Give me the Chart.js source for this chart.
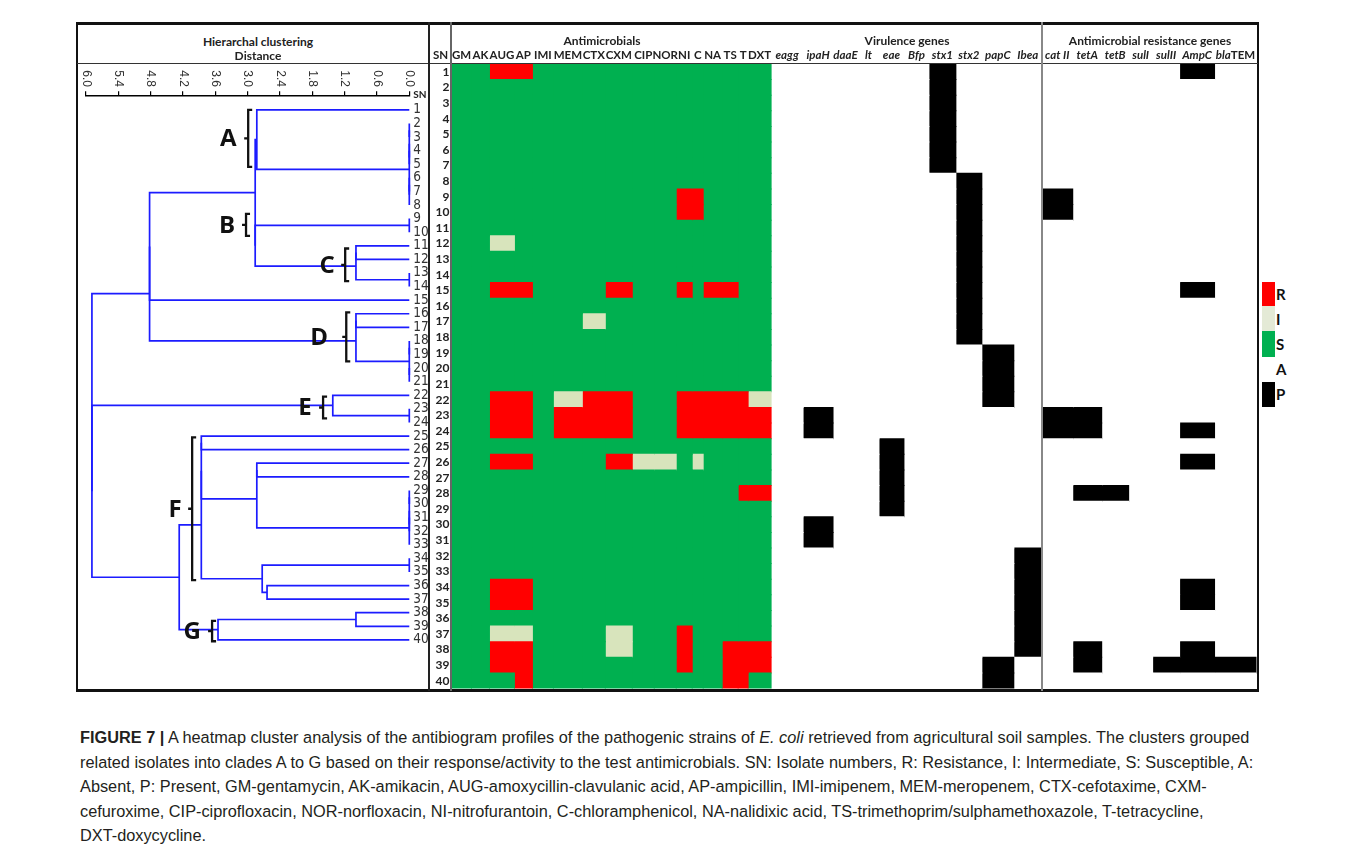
<!DOCTYPE html>
<html><head><meta charset="utf-8">
<script src="https://cdn.jsdelivr.net/npm/chart.js@4.4.0/dist/chart.umd.min.js"></script>
<style>
html,body{margin:0;padding:0;background:#fff;}
body{width:1356px;height:856px;position:relative;overflow:hidden;font-family:Lato,'Open Sans',sans-serif;}
canvas{position:absolute;}
.ln{position:absolute;z-index:5;}
.hdr{position:absolute;font-weight:bold;font-size:12px;line-height:14px;color:#222;text-align:center;white-space:nowrap;width:300px;z-index:6;}
.lg{position:absolute;left:1262px;width:13px;}
.lgt{position:absolute;left:1276px;font:bold 15px Lato,sans-serif;color:#111;line-height:18px;}
#caption{position:absolute;left:80px;top:725px;font-family:'Liberation Sans Narrow','Liberation Sans',Arial,sans-serif;font-size:17px;color:#231f20;line-height:24.5px;white-space:nowrap;}
#caption span.l{display:inline-block;}
</style></head>
<body>
<canvas id="dendro" width="350" height="625" style="left:78px;top:64px;"></canvas>
<canvas id="heat" width="829" height="667" style="left:429px;top:22px;"></canvas>

<!-- frame lines -->
<div class="ln" style="left:75.5px;top:22px;width:1183.5px;height:2.5px;background:#111"></div>
<div class="ln" style="left:75.5px;top:689px;width:1183.5px;height:2.5px;background:#111"></div>
<div class="ln" style="left:75.5px;top:22px;width:2.5px;height:669px;background:#111"></div>
<div class="ln" style="left:1257px;top:22px;width:2px;height:669px;background:#111"></div>
<div class="ln" style="left:77px;top:62.8px;width:1181px;height:1.3px;background:#333"></div>
<div class="ln" style="left:428.3px;top:22px;width:1.8px;height:669px;background:#222"></div>
<div class="ln" style="left:450.4px;top:22px;width:1.2px;height:669px;background:#666"></div>
<div class="ln" style="left:1041.2px;top:22px;width:1.4px;height:669px;background:#888"></div>

<div class="hdr" style="left:108px;top:35px;">Hierarchal clustering</div>
<div class="hdr" style="left:108px;top:49px;">Distance</div>
<div class="hdr" style="left:452px;top:34px;">Antimicrobials</div>
<div class="hdr" style="left:757px;top:34px;">Virulence genes</div>
<div class="hdr" style="left:1000px;top:34px;">Antimicrobial resistance genes</div>

<!-- key -->
<div class="lg" style="top:282px;height:24px;background:#ff0000"></div>
<div class="lg" style="top:306px;height:25px;background:#e4ead6"></div>
<div class="lg" style="top:331px;height:26px;background:#00b050"></div>
<div class="lg" style="top:382px;height:25px;background:#000"></div>
<div class="lgt" style="top:285px;">R</div>
<div class="lgt" style="top:310px;">I</div>
<div class="lgt" style="top:335px;">S</div>
<div class="lgt" style="top:360px;">A</div>
<div class="lgt" style="top:385px;">P</div>

<div id="caption">
<span class="l"><b>FIGURE 7 |</b> A heatmap cluster analysis of the antibiogram profiles of the pathogenic strains of <i>E. coli</i> retrieved from agricultural soil samples. The clusters grouped</span><br>
<span class="l">related isolates into clades A to G based on their response/activity to the test antimicrobials. SN: Isolate numbers, R: Resistance, I: Intermediate, S: Susceptible, A:</span><br>
<span class="l">Absent, P: Present, GM-gentamycin, AK-amikacin, AUG-amoxycillin-clavulanic acid, AP-ampicillin, IMI-imipenem, MEM-meropenem, CTX-cefotaxime, CXM-</span><br>
<span class="l">cefuroxime, CIP-ciprofloxacin, NOR-norfloxacin, NI-nitrofurantoin, C-chloramphenicol, NA-nalidixic acid, TS-trimethoprim/sulphamethoxazole, T-tetracycline,</span><br>
<span class="l">DXT-doxycycline.</span>
</div>

<script>
// ================= DATA =================
const sn = ['1','2','3','4','5','6','7','8','9','10','11','12','13','14','15','16','17','18','19','20',
            '21','22','23','24','25','26','27','28','29','30','31','32','33','34','35','36','37','38','39','40'];
const antimicrobials = ['GM','AK','AUG','AP','IMI','MEM','CTX','CXM','CIP','NOR','NI','C','NA','TS','T','DXT'];
const virulenceGenes = ['eagg','ipaH','daaE','lt','eae','Bfp','stx1','stx2','papC','Ibea'];
const resistanceGenes = ['cat II','tetA','tetB','sulI','sulII','AmpC','blaTEM'];
const distanceTicks = [6.0,5.4,4.8,4.2,3.6,3.0,2.4,1.8,1.2,0.6,0.0];

// antibiogram per isolate (columns in antimicrobials order): R resistant, I intermediate, S susceptible
const antibiogram = [
 'SSRRSSSSSSSSSSSS','SSSSSSSSSSSSSSSS','SSSSSSSSSSSSSSSS','SSSSSSSSSSSSSSSS','SSSSSSSSSSSSSSSS',
 'SSSSSSSSSSSSSSSS','SSSSSSSSSSSSSSSS','SSSSSSSSSSSSSSSS','SSSSSSSSSSRRSSSS','SSSSSSSSSSRRSSSS',
 'SSSSSSSSSSSSSSSS','SSISSSSSSSSSSSSS','SSSSSSSSSSSSSSSS','SSSSSSSSSSSSSSSS','SSRRSSSRSSRSRRSS',
 'SSSSSSSSSSSSSSSS','SSSSSSISSSSSSSSS','SSSSSSSSSSSSSSSS','SSSSSSSSSSSSSSSS','SSSSSSSSSSSSSSSS',
 'SSSSSSSSSSSSSSSS','SSRRSIRRSSRRRRRI','SSRRSRRRSSRRRRRR','SSRRSRRRSSRRRRRR','SSSSSSSSSSSSSSSS',
 'SSRRSSSRIISISSSS','SSSSSSSSSSSSSSSS','SSSSSSSSSSSSSSRR','SSSSSSSSSSSSSSSS','SSSSSSSSSSSSSSSS',
 'SSSSSSSSSSSSSSSS','SSSSSSSSSSSSSSSS','SSSSSSSSSSSSSSSS','SSRRSSSSSSSSSSSS','SSRRSSSSSSSSSSSS',
 'SSSSSSSSSSSSSSSS','SSIISSSISSRSSSSS','SSRRSSSISSRSSRRR','SSRRSSSSSSRSSRRR','SSSRSSSSSSSSSRRS'
];
// virulence genes per isolate: P present, A absent
const virulence = [
 'AAAAAAPAAA','AAAAAAPAAA','AAAAAAPAAA','AAAAAAPAAA','AAAAAAPAAA','AAAAAAPAAA','AAAAAAPAAA',
 'AAAAAAAPAA','AAAAAAAPAA','AAAAAAAPAA','AAAAAAAPAA','AAAAAAAPAA','AAAAAAAPAA','AAAAAAAPAA',
 'AAAAAAAPAA','AAAAAAAPAA','AAAAAAAPAA','AAAAAAAPAA',
 'AAAAAAAAPA','AAAAAAAAPA','AAAAAAAAPA','AAAAAAAAPA',
 'APAAAAAAAA','APAAAAAAAA',
 'AAAAPAAAAA','AAAAPAAAAA','AAAAPAAAAA','AAAAPAAAAA','AAAAPAAAAA',
 'APAAAAAAAA','APAAAAAAAA',
 'AAAAAAAAAP','AAAAAAAAAP','AAAAAAAAAP','AAAAAAAAAP','AAAAAAAAAP','AAAAAAAAAP','AAAAAAAAAP',
 'AAAAAAAAPA','AAAAAAAAPA'
];
// resistance genes per isolate
const resistance = [
 'AAAAAPA','AAAAAAA','AAAAAAA','AAAAAAA','AAAAAAA','AAAAAAA','AAAAAAA','AAAAAAA','PAAAAAA','PAAAAAA',
 'AAAAAAA','AAAAAAA','AAAAAAA','AAAAAAA','AAAAAPA','AAAAAAA','AAAAAAA','AAAAAAA','AAAAAAA','AAAAAAA',
 'AAAAAAA','AAAAAAA','PPAAAAA','PPAAAPA','AAAAAAA','AAAAAPA','AAAAAAA','APPAAAA','AAAAAAA','AAAAAAA',
 'AAAAAAA','AAAAAAA','AAAAAAA','AAAAAPA','AAAAAPA','AAAAAAA','AAAAAAA','APAAAPA','APAAPPP','AAAAAAA'
];

// hierarchical clustering (hclust style): negative = isolate, positive = earlier merge
const mergeLeft  = [-2,-4,1,-6,4,3,-9,-13,-18,-20,9,-23,-29,-31,13,15,-34,-11,18,-16,20,-38,-22,-36,17,-27,26,-1,7,28,22,-25,32,33,34,30,36,23,37];
const mergeRight = [-3,-5,2,-7,-8,5,-10,-14,-19,-21,10,-24,-30,-32,14,-33,-35,-12,8,-17,11,-39,12,-37,24,-28,16,6,19,29,-40,-26,27,25,31,-15,21,35,38];
const mergeHeight= [0,0,0,0,0,0,0,0,0,0,0,0,0,0,0,0,0,0.99,0.99,0.99,0.99,0.99,1.42,2.64,2.73,2.83,2.83,2.83,2.86,2.86,3.55,3.86,3.86,3.86,4.27,4.82,4.82,5.89,5.89];

// clade annotations
const cladeNames = ['A','B','C','D','E','F','G'];
const cladeFrom  = [1.0, 8.65, 11.2, 15.9, 22.1, 25.1, 38.6];
const cladeTo    = [5.2, 10.27, 13.6, 19.5, 23.7, 35.6, 40.1];
const cladeAt    = [2.99, 3.03, 1.19, 1.17, 1.60, 4.03, 3.66];

// ================= STYLE / LAYOUT =================
const cladeLabelGap = [20, 19, 18, 27, 18, 17, 20];
const columnWidth = [20,18,25,18,21,29,23,27,22,22,16,11,19,16,10,23,
                     32,30,25,21,25,25,27,26,32,28,
                     31,29,27,24,27,35,42];
const statusColor = {S:'#00b050', I:'#d8e4bc', R:'#ff0000'};
const geneColor = {A:'#ffffff', P:'#000000'};
const BLUE = '#1c1cff';
const LATO = "Lato, 'Open Sans', sans-serif";
const OPEN = "'Open Sans', Lato, sans-serif";
const noPad = s => { s.paddingTop = 0; s.paddingBottom = 0; s.paddingLeft = 0; s.paddingRight = 0; };

// ================= DENDROGRAM =================
const nodes = [];
function nodeOf(id){ return id < 0 ? {y: sn.indexOf(String(-id)) + 1, h: 0} : nodes[id-1]; }
const segments = [];
mergeLeft.forEach((l, i) => {
  const a = nodeOf(l), b = nodeOf(mergeRight[i]), h = mergeHeight[i];
  segments.push([{x:a.h, y:a.y},{x:h, y:a.y},{x:h, y:b.y},{x:b.h, y:b.y}]);
  nodes.push({y:(a.y+b.y)/2, h});
});

const dendroDecor = {
  id:'dendroDecor',
  afterDraw(chart){
    const {ctx, chartArea, scales:{x, y}} = chart;
    ctx.save();
    ctx.fillStyle = '#333';
    ctx.font = "12px 'Liberation Sans', Arial, sans-serif";
    ctx.textAlign = 'left'; ctx.textBaseline = 'middle';
    distanceTicks.forEach(v => {
      const px = x.getPixelForValue(v);
      ctx.save(); ctx.translate(px, chartArea.top - 26); ctx.rotate(Math.PI/2);
      ctx.fillText(v.toFixed(1), 0, 0); ctx.restore();
    });
    ctx.font = "bold 10px " + LATO; ctx.fillStyle = '#222'; ctx.textBaseline = 'alphabetic';
    ctx.fillText('SN', chartArea.right + 4, chartArea.top + 1.5);
    ctx.strokeStyle = '#111'; ctx.lineWidth = 2.3;
    cladeNames.forEach((name, i) => {
      const bx = x.getPixelForValue(cladeAt[i]);
      const y1 = y.getPixelForValue(cladeFrom[i]), y2 = y.getPixelForValue(cladeTo[i]), ym = (y1+y2)/2;
      ctx.beginPath();
      ctx.moveTo(bx+4, y1); ctx.lineTo(bx, y1); ctx.lineTo(bx, y2); ctx.lineTo(bx+4, y2);
      ctx.moveTo(bx, ym); ctx.lineTo(bx-4, ym);
      ctx.stroke();
      ctx.font = "bold 24px " + OPEN; ctx.fillStyle = '#111';
      ctx.textAlign = 'center'; ctx.textBaseline = 'middle';
      ctx.fillText(name, bx - cladeLabelGap[i], ym + 1);
    });
    ctx.restore();
  }
};

new Chart(document.getElementById('dendro'), {
  type: 'scatter',
  data: { datasets: segments.map(s => ({
    data: s, showLine: true, borderColor: BLUE, borderWidth: 1.7,
    pointRadius: 0, pointHoverRadius: 0, tension: 0, fill: false, clip: false
  })) },
  options: {
    animation: false, responsive: false, events: [],
    layout: { padding: { left: 8, right: 0, top: 0, bottom: 1 } },
    plugins: { legend: { display: false }, tooltip: { enabled: false } },
    scales: {
      x: { type: 'linear', position: 'top', reverse: true, min: 0, max: 6,
           afterBuildTicks: s => { s.ticks = distanceTicks.map(v => ({value: v})); },
           afterFit: s => { s.height = 32.3; noPad(s); },
           grid: { display: true, drawOnChartArea: false, drawTicks: true, tickLength: 5, color: '#000', lineWidth: 1.2 },
           border: { display: true, color: '#000', width: 1.6 },
           ticks: { display: false } },
      y: { type: 'linear', position: 'right', reverse: true, min: 0, max: 43.54,
           afterBuildTicks: s => { s.ticks = sn.map((v, i) => ({value: i + 1})); },
           afterFit: s => { s.width = 18.7; noPad(s); },
           grid: { display: false, drawTicks: false }, border: { display: false },
           ticks: { autoSkip: false, padding: 4, color: '#333',
                    font: { family: "'Liberation Sans Narrow', 'Arial Narrow', 'DejaVu Sans Condensed', sans-serif", size: 13.5 },
                    callback: (v, i) => sn[i] } }
    }
  },
  plugins: [dendroDecor]
});

// ================= HEATMAP =================
const columns = [...antimicrobials, ...virulenceGenes, ...resistanceGenes];
const edges = [0];
columnWidth.forEach(w => edges.push(edges[edges.length-1] + w));
function cellColor(r, c){
  if (c < antimicrobials.length) return statusColor[antibiogram[r][c]];
  c -= antimicrobials.length;
  if (c < virulenceGenes.length) return geneColor[virulence[r][c]];
  c -= virulenceGenes.length;
  return geneColor[resistance[r][c]];
}
const heatDatasets = columns.map((name, c) => ({
  label: name,
  data: sn.map(() => [edges[c], edges[c+1]]),
  backgroundColor: sn.map((_, r) => cellColor(r, c)),
  borderWidth: 0, inflateAmount: 0.5,
  grouped: false, barPercentage: 1, categoryPercentage: 1
}));

const colHeaders = {
  id:'colHeaders',
  afterDraw(chart){
    const {ctx, chartArea, scales:{x}} = chart;
    ctx.save();
    ctx.fillStyle = '#222'; ctx.textBaseline = 'middle';
    const yl = chartArea.top - 9;
    columns.forEach((name, c) => {
      const cx = x.getPixelForValue((edges[c] + edges[c+1]) / 2);
      const gene = c >= antimicrobials.length;
      if (name === 'blaTEM') {
        ctx.font = "italic bold 11.5px " + LATO; const w1 = ctx.measureText('bla').width;
        ctx.font = "bold 11.5px " + LATO; const w2 = ctx.measureText('TEM').width;
        const x0 = cx - (w1 + w2) / 2;
        ctx.textAlign = 'left';
        ctx.font = "italic bold 11.5px " + LATO; ctx.fillText('bla', x0, yl);
        ctx.font = "bold 11.5px " + LATO; ctx.fillText('TEM', x0 + w1, yl);
      } else {
        ctx.textAlign = 'center';
        ctx.font = (gene ? 'italic ' : '') + "bold 11.5px " + LATO;
        ctx.fillText(name, cx, yl);
      }
    });
    ctx.textAlign = 'center'; ctx.font = "bold 11.5px " + LATO;
    ctx.fillText('SN', chartArea.left - 11, yl);
    ctx.restore();
  }
};

new Chart(document.getElementById('heat'), {
  type: 'bar',
  data: { labels: sn, datasets: heatDatasets },
  options: {
    indexAxis: 'y', animation: false, responsive: false, events: [],
    layout: { padding: { top: 42, bottom: 0.5, left: 0, right: 1.5 } },
    plugins: { legend: { display: false }, tooltip: { enabled: false } },
    scales: {
      x: { type: 'linear', display: false, min: 0, max: edges[edges.length-1] },
      y: { type: 'category', position: 'left', offset: true,
           afterFit: s => { s.width = 22.5; noPad(s); },
           grid: { display: false, drawTicks: false }, border: { display: false },
           ticks: { autoSkip: false, padding: 2, color: '#222',
                    font: { family: LATO, weight: 'bold', size: 12 } } }
    }
  },
  plugins: [colHeaders]
});

// fit caption width to reference line length
(function(){
  const cap = document.getElementById('caption');
  const first = cap.querySelector('span.l');
  const w = first.getBoundingClientRect().width;
  const fs = 17 * 1170 / w;
  cap.style.fontSize = fs.toFixed(2) + 'px';
})();
</script>
</body></html>
